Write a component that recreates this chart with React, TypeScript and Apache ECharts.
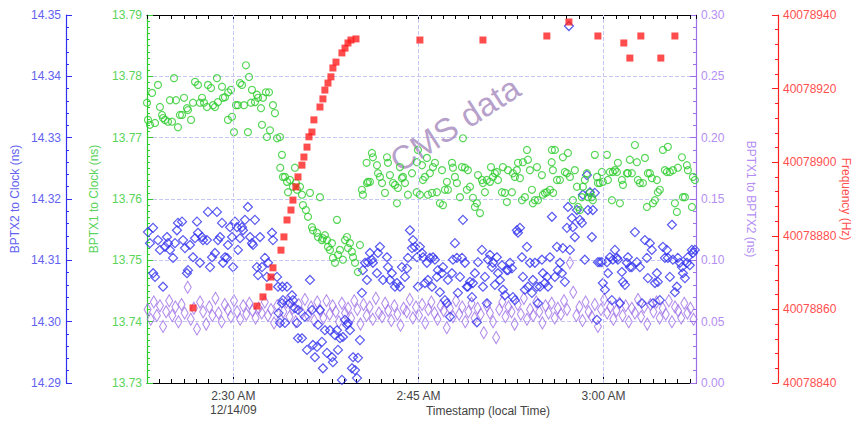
import React, { useEffect, useRef } from "react";
import * as echarts from "echarts";

// time values are minutes after 2:00 AM (12/14/09)
const timeMin = 23;
const timeMax = 67.5;
const timeTickLabels: { v: number; label: string }[] = [
  { v: 30, label: "2:30 AM\n12/14/09" },
  { v: 45, label: "2:45 AM" },
  { v: 60, label: "3:00 AM" },
];

// BPTX1 to Clock (ns) - green circles
const bptx1ToClock: [number, number][] = [
  [23.0, 13.7757], [23.08, 13.7729], [23.24, 13.7721], [23.41, 13.7773], [23.65, 13.7724], [23.89, 13.7786],
  [24.05, 13.775], [24.22, 13.7737], [24.3, 13.7732], [24.46, 13.7729], [24.7, 13.7726], [24.86, 13.7761],
  [25.03, 13.7726], [25.19, 13.7797], [25.35, 13.7761], [25.51, 13.7717], [25.67, 13.7737], [25.84, 13.7737],
  [26.0, 13.7765], [26.24, 13.7748], [26.32, 13.7745], [26.57, 13.7729], [26.73, 13.7757], [26.89, 13.7791],
  [27.13, 13.7786], [27.29, 13.7757], [27.46, 13.7765], [27.62, 13.7757], [27.86, 13.775], [27.94, 13.7786],
  [28.19, 13.7781], [28.35, 13.7753], [28.51, 13.775], [28.67, 13.7797], [28.75, 13.7758], [29.08, 13.7783],
  [29.16, 13.7765], [29.32, 13.7766], [29.56, 13.7729], [29.58, 13.7774], [29.81, 13.7778], [29.89, 13.7734],
  [30.05, 13.7709], [30.21, 13.7753], [30.37, 13.7753], [30.54, 13.7789], [30.7, 13.7786], [30.86, 13.7753],
  [31.02, 13.7818], [31.18, 13.7709], [31.27, 13.7799], [31.43, 13.7757], [31.51, 13.7778], [31.75, 13.7758],
  [31.91, 13.777], [32.0, 13.7765], [32.24, 13.7748], [32.32, 13.7721], [32.4, 13.7765], [32.64, 13.7774],
  [32.72, 13.7701], [32.89, 13.7774], [32.97, 13.7712], [33.21, 13.7753], [33.37, 13.774], [33.54, 13.7699],
  [33.78, 13.7701], [33.94, 13.7672], [33.8, 13.7651], [34.02, 13.7636], [34.18, 13.7636], [34.35, 13.7628],
  [34.43, 13.7611], [34.59, 13.7631], [34.83, 13.762], [34.99, 13.7651], [35.07, 13.7626], [35.16, 13.7615],
  [35.4, 13.762], [35.56, 13.7607], [35.64, 13.759], [35.88, 13.7582], [36.05, 13.7571], [36.21, 13.761],
  [36.37, 13.7554], [36.45, 13.7549], [36.78, 13.7545], [36.86, 13.7538], [37.02, 13.7603], [37.18, 13.7533],
  [37.26, 13.7536], [37.42, 13.7541], [37.59, 13.7533], [37.67, 13.7522], [37.83, 13.7517], [37.99, 13.7528],
  [38.07, 13.7504], [38.24, 13.7496], [38.4, 13.7566], [38.48, 13.7509], [38.64, 13.7517], [38.88, 13.7501],
  [39.05, 13.7533], [39.21, 13.7538], [39.29, 13.752], [39.45, 13.7528], [39.61, 13.7514], [39.7, 13.7505],
  [39.86, 13.7496], [40.1, 13.7481], [40.26, 13.7525],
  [40.42, 13.7615], [40.5, 13.7607], [40.8, 13.7659], [40.83, 13.7626], [40.91, 13.7628], [41.07, 13.7628],
  [41.23, 13.7675], [41.31, 13.7668], [41.64, 13.7655], [41.72, 13.7642], [41.88, 13.7636], [42.05, 13.7626],
  [42.29, 13.761], [42.45, 13.7668], [42.53, 13.7659], [42.69, 13.7639], [42.94, 13.7626], [43.1, 13.7623],
  [43.26, 13.7593], [43.34, 13.7618], [43.5, 13.7652], [43.66, 13.7634], [43.75, 13.7636], [43.91, 13.7626],
  [44.15, 13.7607], [44.48, 13.7642], [44.86, 13.7611], [44.88, 13.766], [44.96, 13.768],
  [45.12, 13.7607], [45.29, 13.7655], [45.37, 13.7631], [45.53, 13.7636], [45.69, 13.7667], [45.77, 13.7607],
  [45.93, 13.7642], [46.1, 13.761], [46.18, 13.7652], [46.34, 13.7659], [46.5, 13.7611], [46.74, 13.7593],
  [46.91, 13.7647], [46.99, 13.759], [47.15, 13.7615], [47.31, 13.7628], [47.39, 13.7615], [47.72, 13.7659],
  [47.8, 13.7651], [47.96, 13.7636], [48.12, 13.7626], [48.37, 13.7603], [48.53, 13.7652], [48.61, 13.7699],
  [48.77, 13.7651], [48.93, 13.7615], [49.01, 13.7647], [49.18, 13.762], [49.42, 13.7602], [49.58, 13.7587],
  [49.74, 13.7593], [49.83, 13.7639], [49.99, 13.7577], [50.15, 13.7631], [50.23, 13.7626], [50.39, 13.7611],
  [50.55, 13.7631], [50.8, 13.7628], [50.88, 13.7652], [51.04, 13.7636], [51.2, 13.7642], [51.36, 13.7644],
  [51.45, 13.7631], [51.77, 13.7611], [51.85, 13.7652], [52.01, 13.761], [52.17, 13.7595], [52.26, 13.7647],
  [52.58, 13.7611], [52.66, 13.7642], [52.82, 13.7636], [52.98, 13.7647], [53.07, 13.7659], [53.23, 13.7634],
  [53.39, 13.7598], [53.47, 13.766], [53.63, 13.7603], [53.8, 13.768], [53.88, 13.7664], [54.04, 13.7647],
  [54.2, 13.7615], [54.28, 13.7593], [54.44, 13.7598], [54.61, 13.7652], [54.69, 13.7598], [55.01, 13.7639],
  [55.09, 13.7607], [55.25, 13.761], [55.42, 13.7611], [55.66, 13.7615], [55.8, 13.766], [55.82, 13.768],
  [55.9, 13.7647], [55.92, 13.761], [56.06, 13.768], [56.23, 13.7631], [56.47, 13.7631], [56.71, 13.7668],
  [56.87, 13.7644], [57.04, 13.7642], [57.12, 13.7675], [57.28, 13.7636], [57.52, 13.7598], [57.68, 13.7647],
  [57.85, 13.762], [57.93, 13.7587], [58.09, 13.7582], [58.25, 13.7603], [58.33, 13.762], [58.49, 13.7631],
  [58.66, 13.7642], [58.74, 13.7603], [58.9, 13.761], [59.06, 13.7603], [59.14, 13.7598], [59.3, 13.7672],
  [59.47, 13.7636], [59.55, 13.7626], [59.71, 13.7626], [59.87, 13.7644], [59.95, 13.7628], [60.28, 13.7672],
  [60.36, 13.7631], [60.52, 13.7644], [60.68, 13.7598], [60.76, 13.7644], [60.93, 13.7647], [61.09, 13.7644],
  [61.17, 13.7659], [61.33, 13.7593], [61.49, 13.7631], [61.58, 13.7623], [61.9, 13.7642], [61.98, 13.7642],
  [62.14, 13.7664], [62.3, 13.7642], [62.55, 13.7688], [62.71, 13.766], [62.79, 13.7631], [62.95, 13.7626],
  [63.2, 13.7626], [63.36, 13.7667], [63.52, 13.7587], [63.6, 13.7642], [63.76, 13.7642], [63.92, 13.7634],
  [64.01, 13.7593], [64.17, 13.7598], [64.33, 13.7631], [64.41, 13.7611], [64.57, 13.7615], [64.82, 13.768],
  [64.98, 13.7647], [65.14, 13.7644], [65.22, 13.7685], [65.38, 13.7644], [65.63, 13.7647], [65.79, 13.7593],
  [65.95, 13.7579], [66.03, 13.7651], [66.36, 13.7668], [66.44, 13.7603], [66.6, 13.7603], [66.76, 13.7655],
  [66.84, 13.7647], [67.17, 13.7587], [67.25, 13.7636], [67.41, 13.7631],
];

// BPTX2 to Clock (ns) - blue diamonds
const bptx2ToClock: [number, number][] = [
  [23.08, 14.3146], [23.24, 14.3128], [23.49, 14.3153], [23.5, 14.3079], [23.65, 14.3073], [23.89, 14.3133],
  [24.05, 14.3117], [24.3, 14.3057], [24.46, 14.3122], [24.62, 14.3138], [24.7, 14.3128], [24.86, 14.3117],
  [25.11, 14.3104], [25.27, 14.3128], [25.43, 14.3149], [25.51, 14.3161], [25.84, 14.3163], [25.92, 14.3133],
  [26.08, 14.312], [26.24, 14.3079], [26.32, 14.3084], [26.48, 14.3125], [26.73, 14.3105], [26.89, 14.3136],
  [27.05, 14.3163], [27.13, 14.3145], [27.29, 14.3096], [27.46, 14.3138], [27.54, 14.3133], [27.86, 14.3133],
  [27.94, 14.3179], [28.11, 14.3089], [28.27, 14.3105], [28.51, 14.3112], [28.67, 14.3179], [28.75, 14.3133],
  [28.92, 14.3138], [29.08, 14.3161], [29.16, 14.3096], [29.32, 14.3105], [29.48, 14.3104], [29.56, 14.3125],
  [29.73, 14.3154], [29.89, 14.3138], [29.97, 14.3089], [30.13, 14.3163], [30.29, 14.3154], [30.37, 14.3117],
  [30.54, 14.3136], [30.7, 14.3154], [30.78, 14.3149], [30.94, 14.3166], [31.18, 14.3187], [31.35, 14.3138],
  [31.51, 14.3128], [31.59, 14.3125], [31.75, 14.3166], [31.91, 14.3089], [32.0, 14.3076], [32.16, 14.3138],
  [32.32, 14.3089], [32.56, 14.3104], [32.72, 14.3073], [32.81, 14.3096], [33.13, 14.3145], [33.21, 14.3133],
  [33.54, 14.3073], [33.62, 14.3057], [33.66, 14.3014], [33.78, 14.2998], [33.94, 14.303], [33.97, 14.3057],
  [34.02, 14.3035], [34.18, 14.2998], [34.35, 14.3057], [34.59, 14.303], [34.75, 14.3043], [34.83, 14.3035],
  [34.99, 14.3022], [35.16, 14.2998], [35.24, 14.2973], [35.25, 14.3019], [35.56, 14.2973], [35.8, 14.3008],
  [35.97, 14.2954], [36.21, 14.3068], [36.37, 14.3019], [36.45, 14.2962], [36.61, 14.2942], [36.78, 14.2959],
  [36.86, 14.2995], [37.02, 14.3019], [37.18, 14.2967], [37.26, 14.2924], [37.42, 14.2986], [37.59, 14.2949],
  [37.83, 14.2986], [37.99, 14.2942], [38.07, 14.2934], [38.24, 14.2978], [38.4, 14.2986], [38.48, 14.2954],
  [38.64, 14.2973], [38.8, 14.2905], [38.88, 14.2975], [39.05, 14.3003], [39.21, 14.2995], [39.29, 14.2998],
  [39.45, 14.2986], [39.61, 14.2924], [39.7, 14.2942], [39.86, 14.2921], [40.02, 14.2908], [40.1, 14.2941],
  [40.26, 14.297], [40.42, 14.3047], [40.5, 14.3084], [40.67, 14.3096], [40.83, 14.3068], [40.91, 14.3097],
  [41.07, 14.3112], [41.23, 14.3101], [41.31, 14.3096], [41.64, 14.3079], [41.72, 14.3112], [41.88, 14.3122],
  [42.13, 14.3068], [42.45, 14.3105], [42.53, 14.3089], [42.69, 14.3068], [42.85, 14.3079], [43.1, 14.3057],
  [43.26, 14.3063], [43.5, 14.3057], [43.66, 14.3089], [43.91, 14.3073], [44.07, 14.3087], [44.15, 14.3104],
  [44.31, 14.3149], [44.48, 14.312], [44.56, 14.3133], [44.72, 14.3122], [44.88, 14.3105], [44.96, 14.3057],
  [45.12, 14.3122], [45.29, 14.3112], [45.37, 14.3105], [45.53, 14.3063], [45.69, 14.3096], [45.77, 14.3068],
  [45.93, 14.3104], [46.1, 14.3057], [46.18, 14.3105], [46.34, 14.3101], [46.5, 14.3073], [46.58, 14.3084],
  [46.74, 14.3048], [46.91, 14.3079], [46.99, 14.3089], [47.15, 14.3035], [47.31, 14.303], [47.39, 14.3068],
  [47.56, 14.3008], [47.72, 14.3079], [47.8, 14.3101], [47.96, 14.3128], [48.12, 14.3104], [48.2, 14.3047],
  [48.37, 14.3073], [48.53, 14.3104], [48.61, 14.3166], [48.77, 14.3096], [48.93, 14.3057], [49.01, 14.3057],
  [49.18, 14.3065], [49.34, 14.304], [49.42, 14.3063], [49.58, 14.3079], [49.74, 14.2999], [49.83, 14.3097],
  [50.15, 14.3117], [50.23, 14.3057], [50.39, 14.3073], [50.55, 14.303], [50.64, 14.3101], [50.8, 14.3109],
  [50.96, 14.3089], [51.04, 14.3096], [51.2, 14.306], [51.36, 14.3105], [51.45, 14.3079], [51.61, 14.3068],
  [51.77, 14.3092], [51.85, 14.3052], [52.01, 14.3043], [52.17, 14.3084], [52.26, 14.3084], [52.42, 14.3096],
  [52.58, 14.3087], [52.66, 14.304], [52.82, 14.3035], [52.98, 14.3149], [53.07, 14.3145], [53.23, 14.3153],
  [53.39, 14.3105], [53.47, 14.3073], [53.63, 14.3052], [53.8, 14.3122], [53.88, 14.3057], [54.04, 14.3096],
  [54.2, 14.3047], [54.28, 14.3068], [54.44, 14.3096], [54.61, 14.3057], [54.69, 14.303], [54.85, 14.3057],
  [55.01, 14.3101], [55.09, 14.3079], [55.25, 14.3063], [55.42, 14.3073], [55.5, 14.3057], [55.66, 14.3105],
  [55.82, 14.3171], [56.06, 14.3073], [56.23, 14.3122], [56.31, 14.3084], [56.47, 14.3096], [56.63, 14.3079],
  [56.71, 14.312], [56.87, 14.3065], [57.04, 14.3153], [57.12, 14.3187], [57.2, 14.3482], [57.28, 14.3117],
  [57.44, 14.3169], [57.52, 14.3154], [57.68, 14.3138], [57.85, 14.3182], [58.09, 14.3166], [58.25, 14.3161],
  [58.33, 14.3207], [58.49, 14.3101], [58.66, 14.3239], [58.74, 14.3182], [58.9, 14.3211], [59.06, 14.3138],
  [59.14, 14.3182], [59.3, 14.321], [59.47, 14.3003], [59.55, 14.3097], [59.71, 14.3097], [59.87, 14.3097],
  [59.95, 14.3063], [60.12, 14.3052], [60.28, 14.3097], [60.36, 14.3079], [60.52, 14.3105], [60.68, 14.3035],
  [60.76, 14.3101], [60.93, 14.3117], [61.09, 14.3104], [61.17, 14.3101], [61.33, 14.303], [61.49, 14.3081],
  [61.58, 14.3065], [61.74, 14.306], [61.9, 14.3096], [61.98, 14.3105], [62.14, 14.3089], [62.3, 14.3089],
  [62.55, 14.3146], [62.71, 14.3097], [62.95, 14.3089], [63.11, 14.303], [63.36, 14.3133], [63.52, 14.3104],
  [63.6, 14.3071], [63.76, 14.3128], [63.92, 14.3117], [64.01, 14.303], [64.17, 14.3063], [64.33, 14.3079],
  [64.41, 14.3065], [64.57, 14.3035], [64.82, 14.3122], [64.98, 14.3104], [65.14, 14.3117], [65.22, 14.3104],
  [65.38, 14.3073], [65.55, 14.3158], [65.63, 14.3101], [65.79, 14.3048], [65.95, 14.3057], [66.03, 14.3104],
  [66.19, 14.3096], [66.36, 14.3089], [66.44, 14.3079], [66.6, 14.3071], [66.76, 14.3096], [66.84, 14.3105],
  [67.0, 14.3092], [67.17, 14.3117], [67.25, 14.3112], [67.41, 14.3117],
];

// BPTX1 to BPTX2 (ns) - purple diamonds
const bptx1ToBptx2: [number, number][] = [
  [23.05, 0.06], [23.3, 0.052], [23.55, 0.066], [23.8, 0.055], [24.05, 0.063], [24.3, 0.046], [24.55, 0.058], [24.8, 0.067],
  [25.05, 0.055], [25.3, 0.062], [25.55, 0.05], [25.8, 0.064], [26.05, 0.057], [26.3, 0.078], [26.55, 0.052], [26.8, 0.061],
  [27.05, 0.044], [27.3, 0.066], [27.55, 0.058], [27.8, 0.048], [28.05, 0.062], [28.3, 0.055], [28.55, 0.069], [28.8, 0.057],
  [29.05, 0.05], [29.3, 0.064], [29.55, 0.06], [29.8, 0.054], [30.05, 0.067], [30.3, 0.058], [30.55, 0.052], [30.8, 0.063],
  [31.05, 0.056], [31.3, 0.065], [31.55, 0.059], [31.8, 0.053], [32.05, 0.061], [32.3, 0.057], [32.55, 0.066], [32.8, 0.055],
  [33.05, 0.06], [33.3, 0.049], [33.55, 0.063], [33.8, 0.052], [34.05, 0.058], [34.3, 0.066], [34.55, 0.054], [34.8, 0.061],
  [35.05, 0.05], [35.3, 0.064], [35.55, 0.057], [35.8, 0.068], [36.05, 0.055], [36.3, 0.062], [36.55, 0.051], [36.8, 0.066],
  [37.05, 0.059], [37.3, 0.053], [37.55, 0.067], [37.8, 0.056], [38.05, 0.063], [38.3, 0.058], [38.55, 0.05], [38.8, 0.065],
  [39.05, 0.057], [39.3, 0.061], [39.55, 0.053], [39.8, 0.067], [40.05, 0.06], [40.3, 0.048], [40.55, 0.064], [40.8, 0.055],
  [41.05, 0.062], [41.3, 0.052], [41.55, 0.069], [41.8, 0.057], [42.05, 0.054], [42.3, 0.065], [42.55, 0.059], [42.8, 0.051],
  [43.05, 0.063], [43.3, 0.056], [43.55, 0.047], [43.8, 0.061], [44.05, 0.058], [44.3, 0.068], [44.55, 0.053], [44.8, 0.062],
  [45.05, 0.055], [45.3, 0.064], [45.55, 0.049], [45.8, 0.06], [46.05, 0.066], [46.3, 0.057], [46.55, 0.052], [46.8, 0.063],
  [47.05, 0.059], [47.3, 0.045], [47.55, 0.061], [47.8, 0.054], [48.05, 0.067], [48.3, 0.056], [48.55, 0.062], [48.8, 0.05],
  [49.05, 0.058], [49.3, 0.065], [49.55, 0.053], [49.8, 0.061], [50.05, 0.056], [50.3, 0.041], [50.55, 0.063], [50.8, 0.057],
  [51.05, 0.05], [51.3, 0.037], [51.55, 0.06], [51.8, 0.066], [52.05, 0.054], [52.3, 0.062], [52.55, 0.058], [52.8, 0.048],
  [53.05, 0.064], [53.3, 0.056], [53.55, 0.069], [53.8, 0.052], [54.05, 0.06], [54.3, 0.055], [54.55, 0.066], [54.8, 0.058],
  [55.05, 0.049], [55.3, 0.063], [55.55, 0.057], [55.8, 0.065], [56.05, 0.053], [56.3, 0.061], [56.55, 0.056], [56.8, 0.067],
  [57.05, 0.06], [57.28, 0.098], [57.55, 0.074], [57.8, 0.055], [58.05, 0.062], [58.3, 0.051], [58.55, 0.066], [58.8, 0.058],
  [59.05, 0.054], [59.3, 0.064], [59.55, 0.046], [59.8, 0.06], [60.05, 0.068], [60.3, 0.057], [60.55, 0.062], [60.8, 0.052],
  [61.05, 0.059], [61.3, 0.065], [61.55, 0.055], [61.8, 0.063], [62.05, 0.05], [62.3, 0.061], [62.55, 0.057], [62.8, 0.068],
  [63.05, 0.054], [63.3, 0.062], [63.55, 0.048], [63.8, 0.064], [64.05, 0.058], [64.3, 0.066], [64.55, 0.053], [64.8, 0.061],
  [65.05, 0.056], [65.3, 0.067], [65.55, 0.05], [65.8, 0.062], [66.05, 0.059], [66.3, 0.053], [66.55, 0.065], [66.8, 0.057],
  [67.05, 0.061], [67.3, 0.052],
];

// Frequency (Hz) - red squares
const frequencyHz: [number, number][] = [
  [26.73, 40078860.4], [31.91, 40078860.9], [32.4, 40078863.4], [32.89, 40078866.1], [33.05, 40078868.8],
  [33.21, 40078871.3], [33.86, 40078876.1], [34.1, 40078879.7], [34.35, 40078884.3], [34.67, 40078887.0],
  [34.83, 40078889.7], [35.07, 40078893.3], [35.24, 40078896.0], [35.56, 40078899.2], [35.72, 40078901.4],
  [35.97, 40078904.1], [36.13, 40078906.9], [36.37, 40078908.2], [36.53, 40078911.5], [37.02, 40078915.0],
  [37.26, 40078917.2], [37.42, 40078919.6], [37.67, 40078921.5], [37.91, 40078923.2], [38.07, 40078925.6],
  [38.32, 40078927.2], [38.8, 40078929.7], [39.05, 40078931.0], [39.29, 40078932.4], [39.53, 40078933.2],
  [39.94, 40078933.5], [45.12, 40078933.2], [50.23, 40078933.2], [55.41, 40078934.3], [57.2, 40078938.1],
  [59.55, 40078934.3], [61.65, 40078932.4], [62.14, 40078928.3], [63.03, 40078934.3], [64.65, 40078928.3],
  [65.79, 40078934.3],
];

const FONT = "Liberation Sans";
const GREEN = "#2ecc2e";
const GREEN_TXT = "#5ad45a";
const BLUE = "#3030ee";
const BLUE_TXT = "#6262f0";
const PURPLE = "#9d6ee6";
const PURPLE_TXT = "#b48ef2";
const RED = "#ff1f1f";
const RED_TXT = "#ff4f4f";
const GRIDLINE = "#c6c6f2";

function baseX(position: "top" | "bottom") {
  return {
    type: "value",
    position,
    min: timeMin,
    max: timeMax,
    interval: 1,
    axisLine: { show: true, onZero: false, lineStyle: { color: "#000", width: 1 } },
    axisTick: { show: true, inside: true, length: 4, lineStyle: { color: "#000" } },
    splitLine: { show: false },
    axisLabel: { show: false },
  };
}

function majorX(position: "top" | "bottom") {
  return {
    type: "value",
    position,
    min: timeMin,
    max: timeMax,
    axisLine: { show: false, onZero: false },
    axisTick: {
      show: true,
      inside: true,
      length: 8,
      customValues: timeTickLabels.map((t) => t.v),
      lineStyle: { color: "#000" },
    },
    splitLine: { show: false },
    axisLabel: { show: false },
  };
}

function yAx(opts: {
  position: "left" | "right";
  offset: number;
  min: number;
  max: number;
  interval: number;
  digits: number;
  color: string;
  txt: string;
  name: string;
  nameGap: number;
  rotate: number;
  minorSplit: number;
  split?: boolean;
}) {
  return {
    type: "value",
    position: opts.position,
    offset: opts.offset,
    min: opts.min,
    max: opts.max,
    interval: opts.interval,
    name: opts.name,
    nameLocation: "middle",
    nameGap: opts.nameGap,
    nameRotate: opts.rotate,
    nameMoveOverlap: false,
    nameTextStyle: { color: opts.txt, fontSize: 12, fontFamily: FONT },
    axisLine: { show: true, lineStyle: { color: opts.color, width: 1.2 } },
    axisTick: { show: true, inside: true, length: 6, lineStyle: { color: opts.color } },
    minorTick: { show: true, splitNumber: opts.minorSplit, length: 3, lineStyle: { color: opts.color } },
    axisLabel: {
      color: opts.txt,
      fontSize: 12,
      fontFamily: FONT,
      margin: 5,
      formatter: (v: number) => v.toFixed(opts.digits),
    },
    splitLine: opts.split
      ? { show: true, lineStyle: { color: GRIDLINE, type: "dashed", width: 1 } }
      : { show: false },
  };
}

export default function App() {
  const ref = useRef<HTMLDivElement>(null);
  useEffect(() => {
    if (!ref.current) return;
    const chart = echarts.init(ref.current, null, { renderer: "svg" });
    const option: any = {
      animation: false,
      backgroundColor: "#fff",
      textStyle: { fontFamily: FONT },
      grid: { left: 147, right: 158, top: 15, bottom: 41, containLabel: false, outerBoundsMode: "none" },
      xAxis: [
        {
          ...baseX("bottom"),
          name: "Timestamp (local Time)",
          nameLocation: "middle",
          nameGap: 22,
          nameMoveOverlap: false,
          nameTextStyle: { color: "#444", fontSize: 12, fontFamily: FONT, padding: [0, 0, 0, 133] },
          axisLabel: {
            show: true,
            color: "#444",
            fontSize: 12,
            lineHeight: 14,
            margin: 6,
            fontFamily: FONT,
            showMinLabel: false,
            showMaxLabel: false,
            formatter: (v: number) => {
              const hit = timeTickLabels.find((t) => Math.abs(t.v - v) < 1e-6);
              return hit ? hit.label : "";
            },
          },
        },
        baseX("top"),
        majorX("bottom"),
        majorX("top"),
      ],
      yAxis: [
        yAx({ position: "left", offset: 0, min: 13.73, max: 13.79, interval: 0.01, digits: 2, color: GREEN, txt: GREEN_TXT, name: "BPTX1 to Clock (ns)", nameGap: 47, rotate: 90, minorSplit: 10, split: true }),
        yAx({ position: "left", offset: 81, min: 14.29, max: 14.35, interval: 0.01, digits: 2, color: BLUE, txt: BLUE_TXT, name: "BPTX2 to Clock (ns)", nameGap: 45, rotate: 90, minorSplit: 5 }),
        yAx({ position: "right", offset: 0, min: 0, max: 0.3, interval: 0.05, digits: 2, color: PURPLE, txt: PURPLE_TXT, name: "BPTX1 to BPTX2 (ns)", nameGap: 49, rotate: -90, minorSplit: 5 }),
        yAx({ position: "right", offset: 82, min: 40078840, max: 40078940, interval: 20, digits: 0, color: RED, txt: RED_TXT, name: "Frequency (Hz)", nameGap: 62, rotate: -90, minorSplit: 5 }),
      ],
      graphic: [
        {
          type: "text",
          x: 455,
          y: 124,
          rotation: 0.57,
          z: 1,
          silent: true,
          style: {
            text: "CMS data",
            fontSize: 33,
            fontFamily: FONT,
            fill: "rgba(160,130,185,0.75)",
            align: "center",
            verticalAlign: "middle",
          },
        },
      ],
      series: [
        {
          name: "BPTX1 to BPTX2",
          type: "scatter",
          xAxisIndex: 0,
          yAxisIndex: 2,
          symbol: "diamond",
          symbolSize: [7, 12],
          itemStyle: { color: "rgba(0,0,0,0)", borderColor: PURPLE, borderWidth: 1.1 },
          data: bptx1ToBptx2,
          z: 2,
        },
        {
          name: "BPTX2 to Clock",
          type: "scatter",
          xAxisIndex: 0,
          yAxisIndex: 1,
          symbol: "diamond",
          symbolSize: [9, 9],
          itemStyle: { color: "rgba(0,0,0,0)", borderColor: BLUE, borderWidth: 1.2 },
          data: bptx2ToClock,
          z: 3,
        },
        {
          name: "BPTX1 to Clock",
          type: "scatter",
          xAxisIndex: 0,
          yAxisIndex: 0,
          symbol: "circle",
          symbolSize: 7,
          itemStyle: { color: "rgba(0,0,0,0)", borderColor: GREEN, borderWidth: 1.2 },
          data: bptx1ToClock,
          z: 4,
          markLine: {
            silent: true,
            symbol: "none",
            label: { show: false },
            lineStyle: { color: GRIDLINE, type: "dashed", width: 1 },
            data: timeTickLabels.map((t) => ({ xAxis: t.v })),
          },
        },
        {
          name: "Frequency",
          type: "scatter",
          xAxisIndex: 0,
          yAxisIndex: 3,
          symbol: "rect",
          symbolSize: 7,
          itemStyle: { color: RED },
          data: frequencyHz,
          z: 5,
        },
      ],
    };
    chart.setOption(option);
    return () => chart.dispose();
  }, []);
  return (
    <div
      ref={ref}
      style={{ position: "fixed", left: 0, top: 0, width: 854, height: 424, background: "#fff" }}
    />
  );
}
